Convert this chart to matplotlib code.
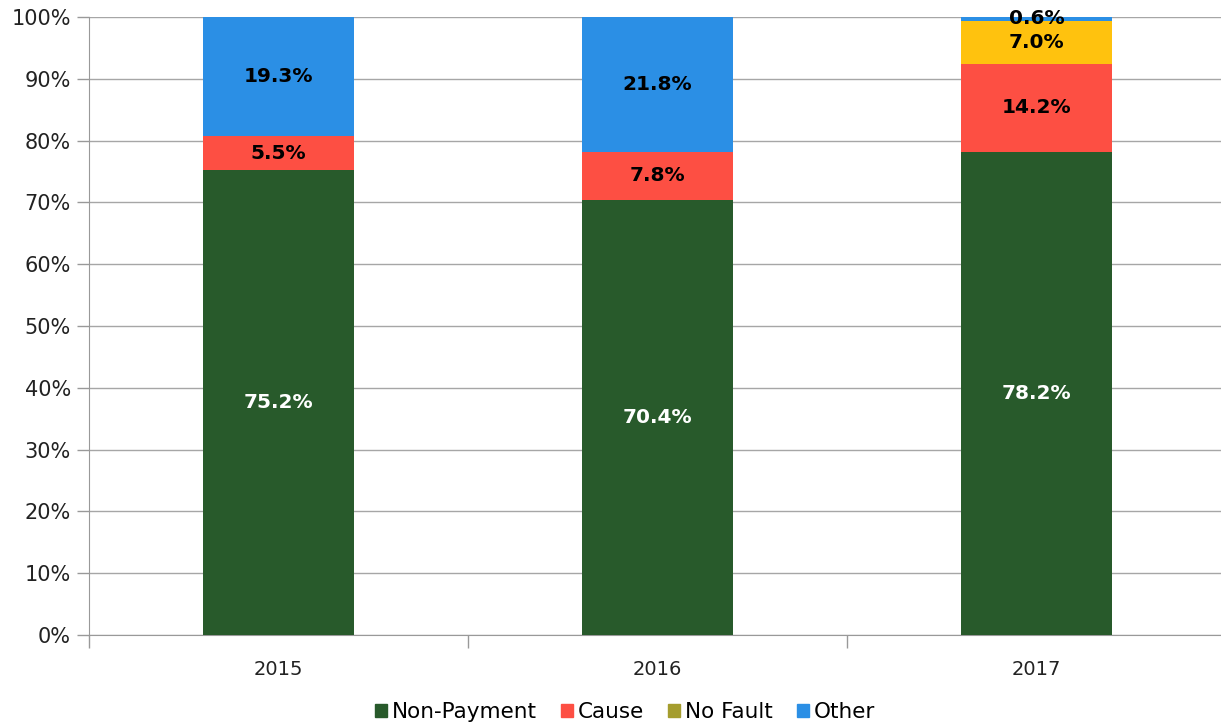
import numpy as np
import matplotlib
matplotlib.use('Agg')
from matplotlib import pyplot as plt
from matplotlib.patches import Patch

years = ['2015', '2016', '2017']
non_payment = [75.2, 70.4, 78.2]
cause = [5.5, 7.8, 14.2]
no_fault = [0.0, 0.0, 7.0]
other = [19.3, 21.8, 0.6]

series = [('Non-Payment', non_payment, '#285a2b', 'white'),
          ('Cause', cause, '#fd4f43', 'black'),
          ('No Fault', no_fault, '#ffc20e', 'black'),
          ('Other', other, '#2b8fe5', 'black')]
legend_colors = ['#285a2b', '#fd4f43', '#a59d2e', '#2b8fe5']

plt.rcParams['font.family'] = ['DejaVu Sans']

fig = plt.figure(figsize=(12.21, 7.23), dpi=100)
ax = fig.add_axes([89 / 1221, 88 / 723, 1137 / 1221, 618 / 723])

x = np.arange(len(years))
bottom = np.zeros(len(years))
for name, vals, col, tcol in series:
    vals = np.array(vals)
    ax.bar(x, vals, 0.4, bottom=bottom, color=col, zorder=3)
    for xi, b, v in zip(x, bottom, vals):
        if v > 0:
            ax.text(xi, b + v / 2, '%.1f%%' % v, ha='center', va='center',
                    color=tcol, fontsize=14.5, fontweight='bold', zorder=4)
    bottom += vals

ax.set_xlim(-0.5, 2.5)
ax.set_ylim(0, 100)
ax.set_yticks(np.arange(0, 101, 10))
ax.set_yticklabels(['%d%%' % v for v in range(0, 101, 10)], fontsize=15, color='#222222')
ax.set_xticks(x)
ax.set_xticklabels(years, fontsize=14, color='#222222')
ax.set_xticks([-0.5, 0.5, 1.5, 2.5], minor=True)
ax.tick_params(axis='x', which='major', length=0, pad=18)
ax.tick_params(axis='x', which='minor', length=9, color='#999999', width=1)
ax.tick_params(axis='y', length=9, color='#999999', width=1, pad=4)
ax.yaxis.grid(True, color='#a6a6a6', linewidth=1, zorder=0)
for s in ['top', 'right']:
    ax.spines[s].set_visible(False)
for s in ['left', 'bottom']:
    ax.spines[s].set_color('#999999')

handles = [Patch(color=c, label=s[0]) for c, s in zip(legend_colors, series)]
fig.legend(handles=handles, loc='lower center', bbox_to_anchor=(0.512, -0.025), ncol=4,
           frameon=False, fontsize=15.5, handlelength=0.55, handleheight=0.55,
           handletextpad=0.25, columnspacing=1.1)

fig.savefig('out.png', dpi=100)
